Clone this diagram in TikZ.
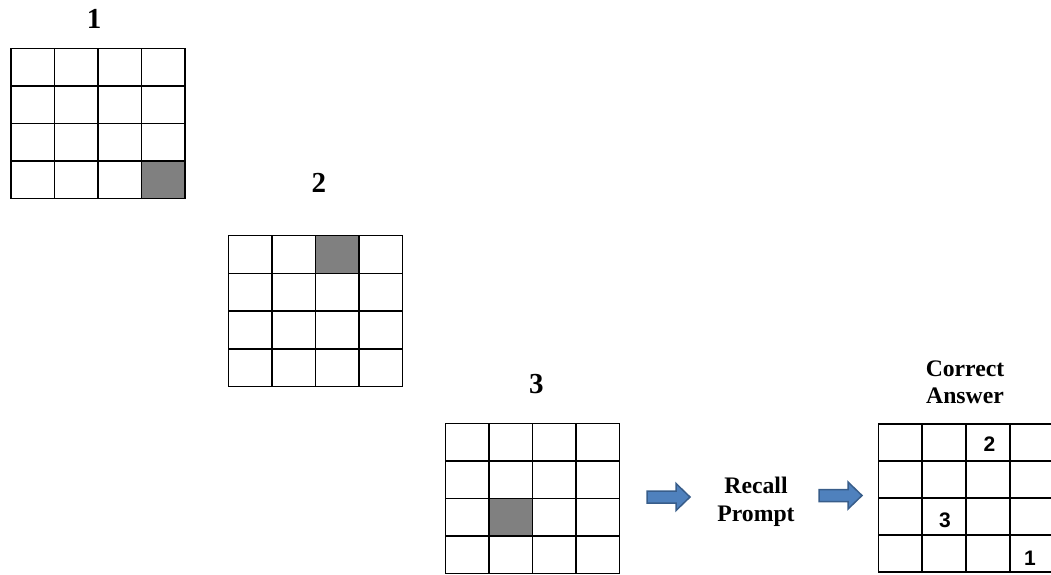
\documentclass[tikz,border=0pt]{standalone}
\usepackage{fontspec}
\setmainfont{Liberation Serif}
\newfontfamily\numfont{Liberation Sans}
\definecolor{shadegray}{HTML}{808080}
\definecolor{arrowfill}{HTML}{4F81BD}
\definecolor{arrowline}{HTML}{385D8A}
\tikzset{
  gridline/.style={line width=1.5pt, black, line cap=rect},
  shadecell/.style={fill=shadegray},
  steplabel/.style={font=\bfseries\fontsize{29}{34}\selectfont, inner sep=0pt},
  textlabel/.style={font=\bfseries\fontsize{23.7}{28.4}\selectfont, align=center, inner sep=0pt},
  textlabelb/.style={font=\bfseries\fontsize{23.7}{26.7}\selectfont, align=center, inner sep=0pt},
  cellnum/.style={font=\numfont\bfseries\fontsize{21}{24}\selectfont, inner sep=0pt},
  arrowbody/.style={draw=arrowline, fill=arrowfill, line width=1.5pt, line join=miter},
  blockarrow/.pic={\draw[arrowbody] (0,-6) -- (29,-6) -- (29,-13.5) -- (43,0) -- (29,13.5) -- (29,6) -- (0,6) -- cycle;}
}
\begin{document}
\begin{tikzpicture}[x=1pt,y=-1pt]
\useasboundingbox (0,0) rectangle (1051,574);
\clip (0,0) rectangle (1051,574);
% grid 1
\begin{scope}[shift={(11,48.3)}, x=43.5pt, y=-37.5pt]
  \fill[shadecell] (3,3) rectangle (4,4);
  \foreach \i in {0,...,4} {\draw[gridline] (\i,0) -- (\i,4); \draw[gridline] (0,\i) -- (4,\i);}
\end{scope}
% grid 2
\begin{scope}[shift={(228.3,235.7)}, x=43.5pt, y=-37.75pt]
  \fill[shadecell] (2,0) rectangle (3,1);
  \foreach \i in {0,...,4} {\draw[gridline] (\i,0) -- (\i,4); \draw[gridline] (0,\i) -- (4,\i);}
\end{scope}
% grid 3
\begin{scope}[shift={(445.3,423.3)}, x=43.5pt, y=-37.6pt]
  \fill[shadecell] (1,2) rectangle (2,3);
  \foreach \i in {0,...,4} {\draw[gridline] (\i,0) -- (\i,4); \draw[gridline] (0,\i) -- (4,\i);}
\end{scope}
% answer grid
\begin{scope}[shift={(878.3,424)}, x=43.9pt, y=-37pt]
  \foreach \i in {0,...,4} {\draw[gridline] (\i,0) -- (\i,4); \draw[gridline] (0,\i) -- (4,\i);}
\end{scope}
% labels
\node[steplabel] (l1) at (94,19.3) {1};
\node[steplabel] (l2) at (318.8,182.8) {2};
\node[steplabel] (l3) at (536.3,384) {3};
\node[textlabel] (recall) at (756,502) {Recall\\Prompt};
\node[textlabelb] (answer) at (965,382.5) {Correct\\Answer};
% numbers in answer grid
\node[cellnum] (n2) at (989.5,443.7) {2};
\node[cellnum] (n3) at (945,520.5) {3};
\node[cellnum] (n1) at (1030,558.5) {1};
% block arrows
\pic (a1) at (647,497) {blockarrow};
\pic (a2) at (819,495.5) {blockarrow};
\end{tikzpicture}
\end{document}
